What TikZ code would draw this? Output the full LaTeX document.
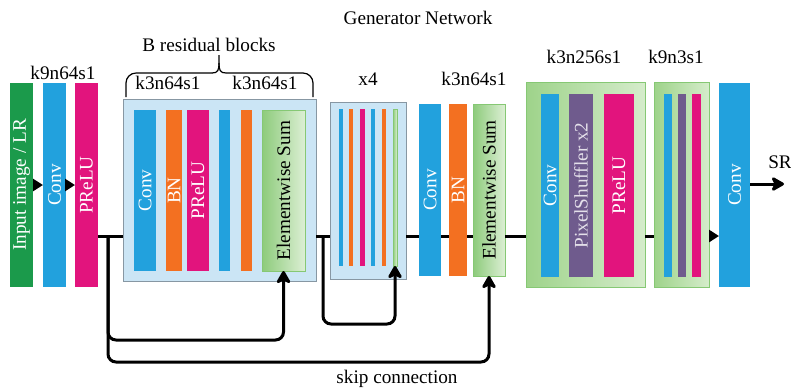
\documentclass[tikz,border=0pt]{standalone}
\usepackage{fontspec}
\setmainfont{Liberation Serif}
\usetikzlibrary{fit,arrows.meta}

\definecolor{lrgreen}{HTML}{1B9A4B}
\definecolor{convblue}{HTML}{22A1DD}
\definecolor{prelumag}{HTML}{E2147D}
\definecolor{bnorange}{HTML}{F37021}
\definecolor{shufpurple}{HTML}{6F5B8D}
\definecolor{resblue}{HTML}{CBE5F5}
\definecolor{resedge}{HTML}{8797A3}
\definecolor{sumdark}{HTML}{8DCB7B}
\definecolor{sumlight}{HTML}{DCEFD4}
\definecolor{sumedge}{HTML}{86C874}
\definecolor{updark}{HTML}{9ED38A}
\definecolor{uplight}{HTML}{D5ECCB}
\definecolor{shuftext}{HTML}{E4E0EA}

\tikzset{
  layer/.style={inner sep=0pt, outer sep=0pt},
  lr/.style={layer, fill=lrgreen},
  conv/.style={layer, fill=convblue},
  prelu/.style={layer, fill=prelumag},
  bn/.style={layer, fill=bnorange},
  shuf/.style={layer, fill=shufpurple},
  sum/.style={layer, draw=sumedge, line width=0.4pt, left color=sumdark, right color=sumlight},
  resbox/.style={layer, draw=resedge, line width=0.5pt, fill=resblue},
  upbox/.style={layer, draw=sumedge, line width=0.4pt, left color=updark, right color=uplight},
  vtext/.style={label={[text=white, inner sep=0pt]center:\rotatebox{90}{#1}}},
  vdark/.style={label={[text=black, inner sep=0pt]center:\rotatebox{90}{#1}}},
  flow/.style={line width=1.5pt},
  tri/.style={flow, -{Triangle[length=5pt,width=6pt]}},
  skip/.style={flow, rounded corners=4pt, -{Stealth[length=7.5pt,width=8.5pt,inset=2pt,round]}},
}

\begin{document}
\begin{tikzpicture}[x=0.5pt,y=-0.5pt,font=\fontsize{9.6}{11}\selectfont]
\useasboundingbox (0,0) rectangle (791,388);

\node (title) at (418,18) {Generator Network};

% input, first conv
\node[lr, vtext={Input image / LR}, fit={(10,83) (33,287)}] (in) {};
\node[conv, vtext=Conv, fit={(43,83) (66,287)}] (conv1) {};
\node[prelu, vtext=PReLU, fit={(75,83) (98,287)}] (prelu1) {};
\node (k1) at (63,73) {k9n64s1};

% residual blocks
\node[resbox, fit={(123,99) (316,281)}] (res) {};
\node[conv, vtext=Conv, fit={(134,110) (156,271)}] (rconv) {};
\node[bn, vtext=BN, fit={(166,110) (182,271)}] (rbn) {};
\node[prelu, vtext=PReLU, fit={(187,110) (209,271)}] (rprelu) {};
\node[conv, fit={(219,110) (230,271)}] (rconvb) {};
\node[bn, fit={(241,110) (252,271)}] (rbnb) {};
\node[sum, vdark={Elementwise Sum}, fit={(262,110) (305,271)}] (sum1) {};
\node (k2) at (168,83) {k3n64s1};
\node (k3) at (265,83) {k3n64s1};
\node (blocks) at (209,45) {B residual blocks};
\draw[line width=0.6pt, rounded corners=5pt] (126,97) -- (126,73) -- (212,73);
\draw[line width=0.6pt] (212,73) .. controls (218,73) and (219,70) .. (219,63) -- (219,55);
\draw[line width=0.6pt] (226,73) .. controls (220,73) and (219,70) .. (219,63);
\draw[line width=0.6pt, rounded corners=5pt] (226,73) -- (313,73) -- (313,97);

% x4 block
\node[resbox, fit={(330,102) (406,279)}] (x4) {};
\node[conv, fit={(339,109) (343,266)}] (x4a) {};
\node[bn, fit={(349,109) (353,266)}] (x4b) {};
\node[prelu, fit={(360,109) (365,266)}] (x4c) {};
\node[conv, fit={(371,109) (375,266)}] (x4d) {};
\node[bn, fit={(382,109) (386,266)}] (x4e) {};
\node[sum, fit={(393,109) (397,266)}] (x4g) {};
\node (k4) at (368,79) {x4};

% conv after blocks
\node[conv, vtext=Conv, fit={(419,104) (441,276)}] (conv2) {};
\node[bn, vtext=BN, fit={(449,104) (467,276)}] (bn2) {};
\node[sum, vdark={Elementwise Sum}, fit={(473,104) (505,276)}] (sum2) {};
\node (k5) at (474,79) {k3n64s1};

% upsampling
\node[upbox, fit={(526,82) (645,287)}] (up1) {};
\node[conv, vtext=Conv, fit={(541,94) (559,277)}] (uconv) {};
\node[shuf, label={[text=shuftext, inner sep=0pt]center:\rotatebox{90}{PixelShuffler x2}}, fit={(569,94) (593,277)}] (ushuf) {};
\node[prelu, vtext=PReLU, fit={(604,94) (634,277)}] (uprelu) {};
\node (k6) at (584,57) {k3n256s1};
\node[upbox, fit={(654,82) (709,287)}] (up2) {};
\node[conv, fit={(664,94) (672,277)}] (uconvb) {};
\node[shuf, fit={(678,94) (686,277)}] (ushufb) {};
\node[prelu, fit={(692,94) (701,277)}] (upelub) {};
\node (k7) at (676,57) {k9n3s1};

% output
\node[conv, vtext=Conv, fit={(719,83) (750,287)}] (conv3) {};
\node (sr) at (780,162) {SR};
\coordinate (srend) at (784,184);

% main path
\coordinate (br1) at (108,236);
\coordinate (br2) at (323,236);
\draw[tri] (in) -- (conv1);
\draw[tri] (conv1) -- (prelu1);
\draw[flow] (prelu1.east |- br1) -- (res.west |- br1);
\draw[flow] (res.east |- br1) -- (x4.west |- br1);
\draw[flow] (x4.east |- br1) -- (conv2.west |- br1);
\draw[flow] (conv2.east |- br1) -- (bn2.west |- br1);
\draw[flow] (bn2.east |- br1) -- (sum2.west |- br1);
\draw[flow] (sum2.east |- br1) -- (up1.west |- br1);
\draw[flow] (up1.east |- br1) -- (up2.west |- br1);
\draw[tri] (up2.east |- br1) -- (conv3.west |- br1);
\draw[skip] (conv3.east |- srend) -- (srend);

% skip connections
\coordinate (lo1) at (108,340);
\coordinate (lo2) at (108,362);
\coordinate (lo3) at (323,324);
\draw[skip] (br1) -- (lo1) -| (sum1.south);
\draw[skip] (br1) -- (lo2) -| (sum2.south);
\draw[skip] (br2) -- (lo3) -| (x4g.south);
\node (skiplab) at (397,379) {skip connection};
\end{tikzpicture}
\end{document}
